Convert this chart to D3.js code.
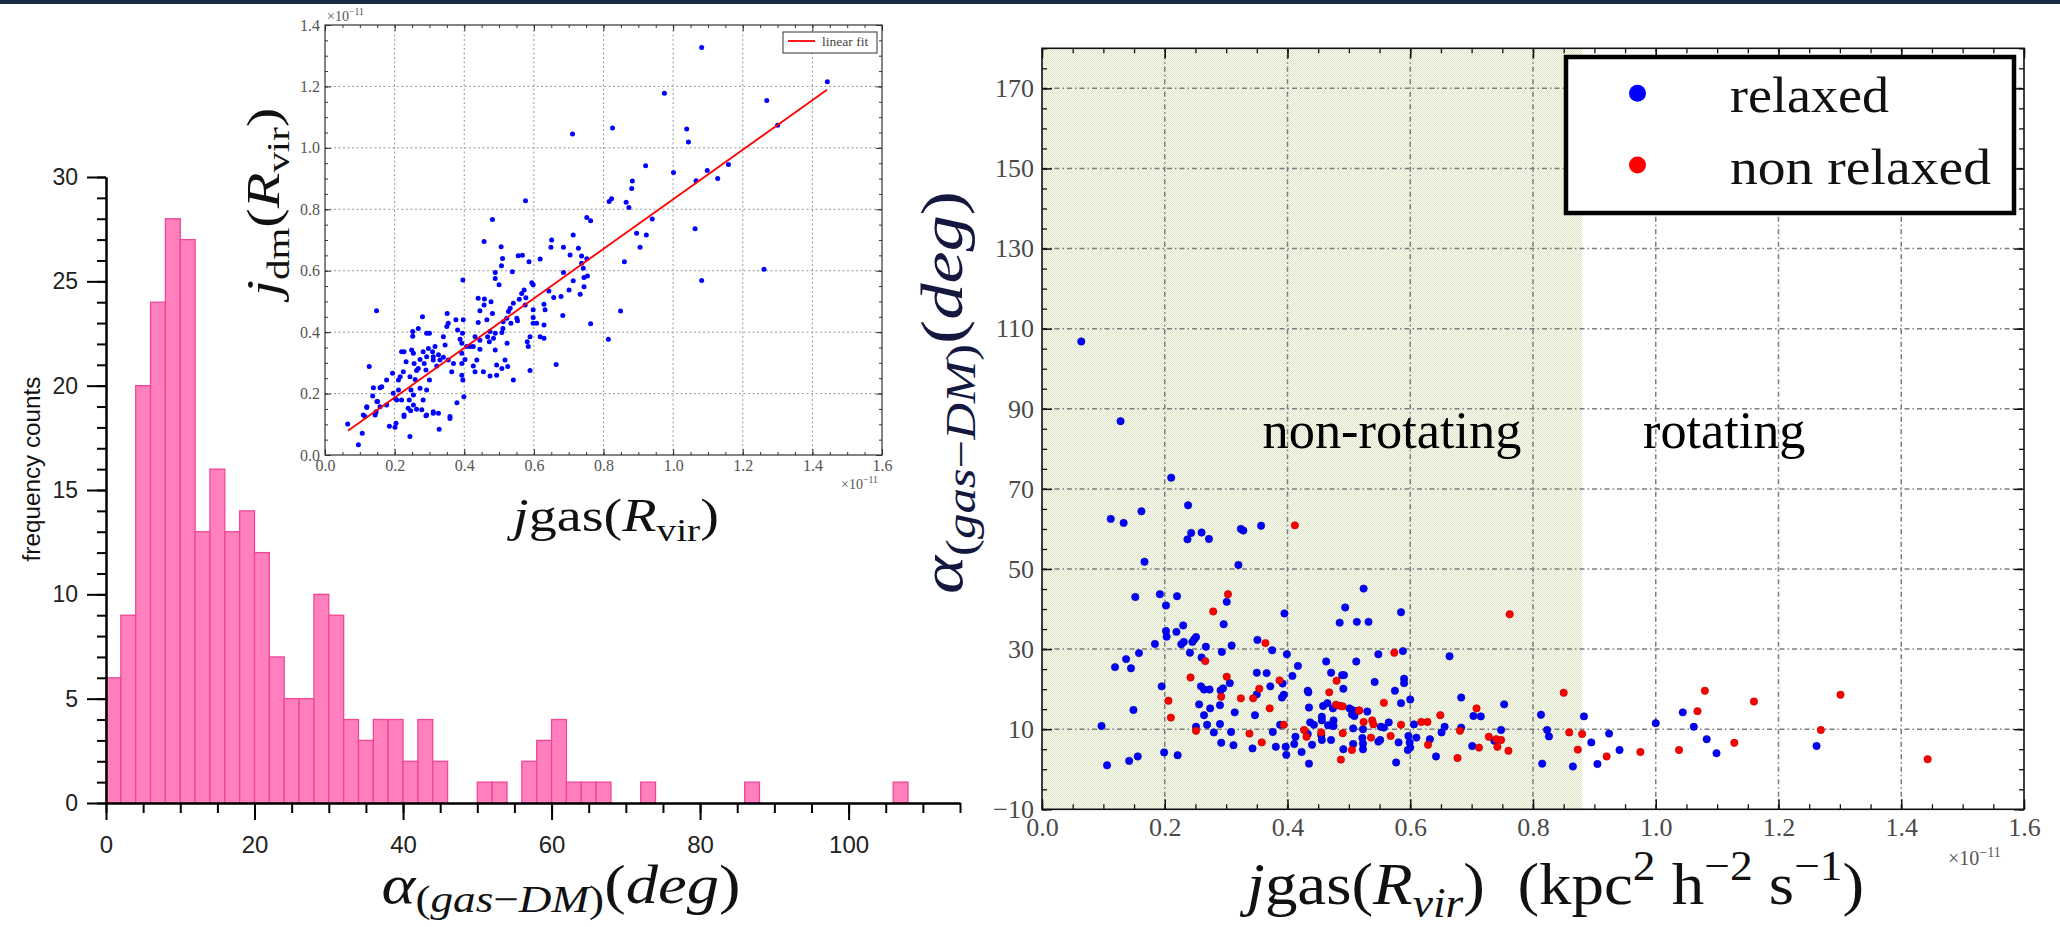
<!DOCTYPE html>
<html>
<head>
<meta charset="utf-8">
<script src="https://cdn.jsdelivr.net/npm/d3@7"></script>
<style>
  html, body { margin: 0; padding: 0; background: #fff; }
  svg { display: block; }
  text { white-space: pre; }
</style>
</head>
<body>
<svg id="chart" width="2060" height="927"></svg>
<script>
/* globals d3 */

// --- DATA ---
// histogram of alpha(gas-DM), 2 degree bins (lower edge -> count)
const histBinStart = [0, 2, 4, 6, 8, 10, 12, 14, 16, 18, 20, 22, 24, 26, 28, 30, 32, 34, 36, 38, 40, 42, 44,
                      50, 52, 56, 58, 60, 62, 64, 66, 72, 86, 106];
const histCounts   = [6, 9, 20, 24, 28, 27, 13, 16, 13, 14, 12, 7, 5, 5, 10, 9, 4, 3, 4, 4, 2, 4, 2,
                      1, 1, 2, 3, 4, 1, 1, 1, 1, 1, 1];
const histBinWidth = 2;
const histXTicks = [0, 20, 40, 60, 80, 100];
const histYTicks = [0, 5, 10, 15, 20, 25, 30];

// inset: j_dm vs j_gas (units of 1e-11)
const insetXTicks = [0.0, 0.2, 0.4, 0.6, 0.8, 1.0, 1.2, 1.4, 1.6];
const insetYTicks = [0.0, 0.2, 0.4, 0.6, 0.8, 1.0, 1.2, 1.4];
const insetPoints = [
  [1.082,1.327],[0.975,1.178],[0.826,1.065],[0.711,1.045],[1.039,1.061],[1.044,1.019],[0.921,0.942],[1.001,0.920],
  [0.883,0.892],[0.881,0.868],[1.066,0.893],[1.098,0.926],[1.128,0.900],[1.159,0.946],[0.816,0.825],[0.823,0.834],
  [0.865,0.823],[0.873,0.806],[0.940,0.768],[0.576,0.828],[0.752,0.773],[0.763,0.763],[0.481,0.767],[1.063,0.737],
  [0.895,0.722],[0.923,0.716],[0.905,0.676],[0.860,0.629],[0.457,0.695],[0.506,0.678],[0.510,0.640],[0.507,0.616],
  [0.489,0.594],[0.489,0.575],[0.500,0.554],[0.538,0.597],[0.555,0.649],[0.567,0.650],[0.586,0.629],[0.618,0.638],
  [0.651,0.700],[0.649,0.676],[0.685,0.676],[0.713,0.716],[0.704,0.651],[0.728,0.673],[0.737,0.648],[0.685,0.594],
  [0.713,0.567],[0.701,0.537],[0.737,0.624],[0.742,0.608],[0.744,0.578],[0.754,0.583],[0.752,0.639],[0.744,0.548],
  [0.733,0.523],[0.643,0.534],[0.657,0.513],[0.678,0.516],[0.683,0.454],[0.763,0.427],[0.849,0.469],[0.814,0.377],
  [0.664,0.295],[0.629,0.491],[0.632,0.473],[0.629,0.423],[0.608,0.429],[0.618,0.385],[0.629,0.380],[0.598,0.473],
  [0.598,0.448],[0.598,0.429],[0.589,0.385],[0.581,0.369],[0.584,0.353],[0.589,0.275],[0.577,0.512],[0.572,0.537],
  [0.594,0.561],[0.598,0.554],[0.575,0.488],[0.565,0.526],[0.558,0.507],[0.541,0.494],[0.532,0.478],[0.527,0.467],
  [0.522,0.445],[0.551,0.445],[0.553,0.437],[0.534,0.429],[0.511,0.412],[0.508,0.399],[0.523,0.364],[0.525,0.288],
  [0.508,0.282],[0.517,0.309],[0.541,0.244],[0.512,0.434],[0.484,0.380],[0.489,0.342],[0.493,0.293],[0.493,0.260],
  [0.474,0.257],[0.489,0.396],[0.472,0.369],[0.467,0.385],[0.474,0.402],[0.465,0.440],[0.445,0.470],[0.457,0.488],
  [0.458,0.508],[0.440,0.510],[0.477,0.499],[0.481,0.461],[0.440,0.431],[0.445,0.374],[0.445,0.344],[0.431,0.385],
  [0.426,0.353],[0.436,0.309],[0.426,0.290],[0.431,0.271],[0.455,0.271],[0.407,0.353],[0.417,0.353],[0.395,0.396],
  [0.397,0.440],[0.396,0.570],[0.376,0.440],[0.381,0.407],[0.388,0.377],[0.393,0.364],[0.393,0.331],[0.402,0.311],
  [0.393,0.298],[0.393,0.260],[0.396,0.244],[0.399,0.190],[0.379,0.170],[0.369,0.298],[0.364,0.271],[0.354,0.309],
  [0.351,0.461],[0.354,0.429],[0.350,0.418],[0.340,0.385],[0.345,0.358],[0.326,0.326],[0.330,0.309],[0.340,0.318],
  [0.321,0.290],[0.316,0.353],[0.309,0.336],[0.297,0.347],[0.311,0.309],[0.311,0.320],[0.300,0.244],[0.292,0.396],
  [0.300,0.396],[0.280,0.450],[0.268,0.412],[0.282,0.336],[0.292,0.320],[0.273,0.311],[0.285,0.298],[0.290,0.277],
  [0.263,0.275],[0.268,0.282],[0.273,0.217],[0.292,0.212],[0.282,0.179],[0.278,0.147],[0.263,0.149],[0.252,0.402],
  [0.252,0.387],[0.249,0.342],[0.254,0.331],[0.256,0.298],[0.259,0.246],[0.244,0.255],[0.247,0.212],[0.254,0.195],
  [0.254,0.163],[0.242,0.179],[0.239,0.152],[0.246,0.144],[0.225,0.271],[0.227,0.336],[0.220,0.336],[0.233,0.304],
  [0.216,0.255],[0.211,0.244],[0.211,0.212],[0.196,0.201],[0.202,0.184],[0.206,0.179],[0.220,0.179],[0.194,0.266],
  [0.177,0.244],[0.177,0.163],[0.163,0.222],[0.158,0.219],[0.139,0.219],[0.137,0.192],[0.127,0.288],[0.148,0.470],
  [0.151,0.174],[0.120,0.157],[0.144,0.136],[0.158,0.157],[0.115,0.125],[0.359,0.125],[0.311,0.141],[0.326,0.136],
  [0.227,0.130],[0.292,0.130],[1.269,1.154],[1.300,1.074],[1.443,1.215],[1.261,0.605],[1.082,0.568],[0.065,0.101],
  [0.096,0.033],[0.107,0.071],[0.110,0.130],[0.120,0.155],[0.144,0.130],[0.147,0.141],[0.149,0.174],[0.185,0.094],
  [0.201,0.090],[0.204,0.103],[0.244,0.060],[0.227,0.125],[0.290,0.128],[0.311,0.136],[0.328,0.084],[0.359,0.119]
];
const fitLine = [[0.066, 0.079], [1.442, 1.189]];

// main scatter: alpha(gas-DM) vs j_gas (units of 1e-11)
const mainXTicks = [0.0, 0.2, 0.4, 0.6, 0.8, 1.0, 1.2, 1.4, 1.6];
const mainYTicks = [-10, 10, 30, 50, 70, 90, 110, 130, 150, 170];
const rotationCut = 0.88;
const relaxed = [
  [0.064,106.8],[0.128,86.9],[0.2105,72.8],[0.112,62.5],[0.133,61.5],[0.162,64.4],[0.167,51.8],[0.238,65.9],
  [0.237,57.4],[0.243,59.0],[0.260,59.1],[0.272,57.5],[0.324,60.0],[0.328,59.6],[0.357,60.8],[0.320,51.0],
  [0.152,43.0],[0.192,43.7],[0.202,40.9],[0.220,43.2],[0.301,41.8],[0.296,36.2],[0.395,38.9],[0.494,40.4],
  [0.524,45.1],[0.485,36.6],[0.513,36.8],[0.532,36.8],[0.585,39.2],[0.202,34.5],[0.203,33.1],[0.219,34.3],
  [0.230,35.9],[0.184,31.3],[0.227,31.2],[0.231,31.8],[0.248,32.4],[0.251,33.0],[0.245,31.8],[0.267,30.6],
  [0.158,29.0],[0.241,29.1],[0.293,29.3],[0.309,30.9],[0.351,32.3],[0.375,29.7],[0.399,28.7],[0.548,28.7],
  [0.588,29.5],[0.664,28.2],[0.119,25.5],[0.137,27.5],[0.145,25.2],[0.260,27.9],[0.417,25.8],[0.463,26.9],
  [0.512,26.9],[0.350,24.1],[0.366,24.0],[0.408,23.3],[0.471,24.1],[0.489,23.5],[0.492,23.5],[0.306,21.5],
  [0.542,21.8],[0.590,22.6],[0.590,21.5],[0.195,20.7],[0.259,20.7],[0.264,19.9],[0.273,19.9],[0.291,19.7],
  [0.295,20.2],[0.372,20.7],[0.392,21.4],[0.433,19.6],[0.434,19.2],[0.491,20.1],[0.575,19.6],[0.350,18.7],
  [0.394,18.6],[0.391,17.9],[0.683,17.9],[0.256,16.2],[0.290,16.0],[0.149,14.8],[0.274,15.2],[0.435,15.4],
  [0.458,15.8],[0.465,16.5],[0.474,15.2],[0.585,16.5],[0.600,17.4],[0.501,15.2],[0.507,14.7],[0.530,14.4],
  [0.703,13.3],[0.715,13.2],[0.753,16.2],[0.314,14.2],[0.347,13.5],[0.264,13.5],[0.456,13.1],[0.456,12.2],
  [0.505,13.7],[0.509,13.3],[0.565,11.7],[0.437,11.7],[0.443,11.1],[0.466,11.0],[0.475,12.2],[0.475,10.8],
  [0.552,10.6],[0.557,10.4],[0.606,11.2],[0.656,10.6],[0.683,10.4],[0.748,9.8],[0.097,10.8],[0.251,10.6],
  [0.269,11.1],[0.280,9.2],[0.290,11.3],[0.388,11.1],[0.376,9.3],[0.308,9.3],[0.413,8.1],[0.433,8.8],
  [0.455,8.5],[0.507,10.2],[0.523,10.0],[0.522,7.8],[0.548,6.9],[0.551,7.3],[0.581,6.7],[0.597,8.3],
  [0.599,6.7],[0.600,5.4],[0.596,4.8],[0.610,7.9],[0.632,7.5],[0.651,9.2],[0.737,7.1],[0.701,5.8],
  [0.292,6.6],[0.312,6.0],[0.343,5.2],[0.381,5.6],[0.397,5.6],[0.398,3.6],[0.423,4.3],[0.411,6.3],
  [0.440,6.1],[0.456,7.3],[0.471,7.3],[0.491,5.0],[0.507,6.3],[0.523,6.4],[0.523,5.0],[0.435,1.4],
  [0.577,1.7],[0.642,3.2],[0.106,1.0],[0.142,2.1],[0.156,3.2],[0.199,4.2],[0.221,3.5],[0.813,13.6],
  [0.883,13.2],[0.823,9.8],[0.826,8.2],[0.895,6.7],[0.924,8.9],[0.905,1.3],[0.941,4.8],[0.815,1.4],
  [0.865,0.7],[1.000,11.5],[1.044,14.2],[1.062,10.6],[1.083,7.5],[1.099,4.0],[1.262,5.8]
];
const nonRelaxed = [
  [0.412,60.9],[0.279,39.4],[0.303,43.7],[0.364,31.5],[0.574,29.1],[0.266,27.0],[0.242,22.9],[0.301,23.1],
  [0.387,22.2],[0.480,22.1],[0.354,20.1],[0.468,19.2],[0.292,18.1],[0.324,17.7],[0.344,17.7],[0.206,17.1],
  [0.557,16.6],[0.371,15.2],[0.479,16.1],[0.486,15.8],[0.490,15.7],[0.516,14.6],[0.517,14.7],[0.708,15.2],
  [0.649,13.5],[0.210,12.9],[0.524,11.8],[0.538,12.2],[0.540,11.2],[0.585,11.1],[0.618,11.8],[0.628,11.8],
  [0.251,9.6],[0.394,11.1],[0.338,8.9],[0.427,9.8],[0.431,8.1],[0.455,9.2],[0.490,9.0],[0.536,7.9],
  [0.568,8.3],[0.629,6.1],[0.681,9.6],[0.728,8.1],[0.740,7.5],[0.748,7.3],[0.742,5.6],[0.760,4.6],
  [0.712,5.4],[0.358,6.7],[0.487,2.4],[0.505,4.8],[0.677,2.8],[0.762,38.7],[0.850,19.1],[0.859,9.2],
  [0.880,8.8],[0.873,4.9],[0.920,3.2],[0.975,4.3],[1.068,14.5],[1.080,19.6],[1.038,4.8],[1.128,6.6],
  [1.160,16.9],[1.269,9.8],[1.301,18.6],[1.443,2.5]
];
const legendItems = [
  { label: 'relaxed', color: '#0000ff' },
  { label: 'non relaxed', color: '#ff0000' }
];

// --- HELPERS ---
const SERIF = 'Liberation Serif, Times New Roman, serif';
const SANS = 'Liberation Sans, Arial, sans-serif';

// rich text: parts = [{t, it, sub, sup}], drawn at (0,0) of a group, optionally squeezed to a width
function richLabel(parent, o) {
  let tf = `translate(${o.x},${o.y})`;
  if (o.rotate) tf += ` rotate(${o.rotate})`;
  const g = parent.append('g').attr('transform', tf);
  const t = g.append('text')
    .attr('text-anchor', o.anchor || 'middle')
    .attr('font-family', o.family || SERIF)
    .attr('font-size', o.size)
    .attr('fill', o.fill || '#000');
  const subShift = o.subShift != null ? o.subShift : 0.22;
  let shift = 0;
  (o.parts || [{ t: o.text }]).forEach(p => {
    const target = p.sub ? o.size * subShift : p.sup ? -o.size * 0.4 : 0;
    t.append('tspan').text(p.t)
      .attr('font-size', (p.sub || p.sup) ? o.size * 0.7 : o.size)
      .attr('font-style', p.it ? 'italic' : 'normal')
      .attr('dy', target - shift);
    shift = target;
  });
  if (o.width) {
    const w = t.node().getBBox().width;
    t.attr('transform', `scale(${o.width / w},1)`);
  }
  return g;
}

const alphaParts = [
  { t: 'α', it: 1 }, { t: '(', sub: 1 }, { t: 'gas', sub: 1, it: 1 }, { t: '−', sub: 1 },
  { t: 'DM', sub: 1, it: 1 }, { t: ')', sub: 1 }, { t: '(' }, { t: 'deg', it: 1 }, { t: ')' }
];
const expParts = [{ t: '×10' }, { t: '−11', sup: 1 }];

function styleAxis(g, o) {
  g.selectAll('.domain').attr('stroke', o.stroke || '#000').attr('stroke-width', o.width || 1.5);
  g.selectAll('.tick line').attr('stroke', o.stroke || '#000').attr('stroke-width', o.width || 1.5);
  g.selectAll('.tick text').attr('font-family', o.family).attr('font-size', o.size).attr('fill', o.fill);
}

const svg = d3.select('#chart');
svg.append('rect').attr('width', 2060).attr('height', 927).attr('fill', '#fff');
svg.append('rect').attr('width', 2060).attr('height', 4).attr('fill', '#1a2b48');

const defs = svg.append('defs');
const pat = defs.append('pattern').attr('id', 'dots')
  .attr('width', 2).attr('height', 2).attr('patternUnits', 'userSpaceOnUse');
pat.append('rect').attr('width', 2).attr('height', 2).attr('fill', '#fafbf3');
pat.append('rect').attr('width', 1).attr('height', 1).attr('fill', '#dde3c6');
pat.append('rect').attr('x', 1).attr('y', 1).attr('width', 1).attr('height', 1).attr('fill', '#dde3c6');

// --- HISTOGRAM ---
const xH = d3.scaleLinear().domain([0, 115]).range([106, 960]);
const yH = d3.scaleLinear().domain([0, 30]).range([803, 177]);

svg.append('g').selectAll('rect').data(histBinStart).join('rect')
  .attr('x', d => xH(d))
  .attr('width', d => xH(d + histBinWidth) - xH(d))
  .attr('y', (d, i) => yH(histCounts[i]))
  .attr('height', (d, i) => yH(0) - yH(histCounts[i]))
  .attr('fill', '#ff80bd')
  .attr('stroke', '#f04596')
  .attr('stroke-width', 1.3);

const hx1 = svg.append('g').attr('transform', `translate(0,${yH(0)})`)
  .call(d3.axisBottom(xH).tickValues(d3.range(0, 116, 5)).tickSize(10).tickSizeOuter(0).tickFormat(''));
styleAxis(hx1, { width: 2 });
const hx2 = svg.append('g').attr('transform', `translate(0,${yH(0)})`)
  .call(d3.axisBottom(xH).tickValues(histXTicks).tickSize(17).tickPadding(16).tickSizeOuter(0));
styleAxis(hx2, { width: 2, family: SANS, size: 24, fill: '#222' });

const hy1 = svg.append('g').attr('transform', `translate(${xH(0)},0)`)
  .call(d3.axisLeft(yH).tickValues(d3.range(0, 31, 1)).tickSize(9).tickSizeOuter(0).tickFormat(''));
styleAxis(hy1, { width: 2 });
const hy2 = svg.append('g').attr('transform', `translate(${xH(0)},0)`)
  .call(d3.axisLeft(yH).tickValues(histYTicks).tickSize(19).tickPadding(9).tickSizeOuter(0));
styleAxis(hy2, { width: 2, family: SANS, size: 23, fill: '#222' });

richLabel(svg, { x: 40, y: 469, rotate: -90, size: 24, family: SANS, text: 'frequency counts', fill: '#111', width: 185 });
richLabel(svg, { x: 561, y: 903, size: 54, parts: alphaParts, width: 359, fill: '#111', subShift: 0.16 });

// --- INSET ---
const xI = d3.scaleLinear().domain([0, 1.6]).range([325, 882]);
const yI = d3.scaleLinear().domain([0, 1.4]).range([455, 25]);
const gI = svg.append('g');
gI.append('rect').attr('x', xI(0)).attr('y', yI(1.4))
  .attr('width', xI(1.6) - xI(0)).attr('height', yI(0) - yI(1.4)).attr('fill', '#fff');

gI.append('g').selectAll('line').data(insetXTicks.slice(1, -1)).join('line')
  .attr('x1', d => xI(d)).attr('x2', d => xI(d)).attr('y1', yI(0)).attr('y2', yI(1.4))
  .attr('stroke', '#9a9a9a').attr('stroke-width', 1).attr('stroke-dasharray', '2,2.5');
gI.append('g').selectAll('line').data(insetYTicks.slice(1, -1)).join('line')
  .attr('y1', d => yI(d)).attr('y2', d => yI(d)).attr('x1', xI(0)).attr('x2', xI(1.6))
  .attr('stroke', '#9a9a9a').attr('stroke-width', 1).attr('stroke-dasharray', '2,2.5');

const iMinorX = d3.range(0, 1.6001, 0.05), iMinorY = d3.range(0, 1.4001, 0.05);
const insetAxes = [
  [d3.axisBottom, xI, `translate(0,${yI(0)})`, iMinorX, insetXTicks, true],
  [d3.axisTop, xI, `translate(0,${yI(1.4)})`, iMinorX, insetXTicks, false],
  [d3.axisLeft, yI, `translate(${xI(0)},0)`, iMinorY, insetYTicks, true],
  [d3.axisRight, yI, `translate(${xI(1.6)},0)`, iMinorY, insetYTicks, false]
];
insetAxes.forEach(([axis, sc, tf, minor, major, lab]) => {
  const a = gI.append('g').attr('transform', tf)
    .call(axis(sc).tickValues(minor).tickSize(-3).tickSizeOuter(0).tickFormat(''));
  a.select('.domain').remove();
  styleAxis(a, { width: 1, stroke: '#333' });
  const b = gI.append('g').attr('transform', tf)
    .call(axis(sc).tickValues(major).tickSize(-6).tickSizeOuter(0).tickPadding(5)
      .tickFormat(lab ? d3.format('.1f') : ''));
  b.select('.domain').remove();
  styleAxis(b, { width: 1, stroke: '#333', family: SERIF, size: 16, fill: '#555' });
});
gI.append('rect').attr('x', xI(0)).attr('y', yI(1.4))
  .attr('width', xI(1.6) - xI(0)).attr('height', yI(0) - yI(1.4))
  .attr('fill', 'none').attr('stroke', '#333').attr('stroke-width', 1.2);

gI.append('g').selectAll('circle').data(insetPoints).join('circle')
  .attr('cx', d => xI(d[0])).attr('cy', d => yI(d[1])).attr('r', 2.5).attr('fill', '#0000ff');
gI.append('line')
  .attr('x1', xI(fitLine[0][0])).attr('y1', yI(fitLine[0][1]))
  .attr('x2', xI(fitLine[1][0])).attr('y2', yI(fitLine[1][1]))
  .attr('stroke', '#ff0000').attr('stroke-width', 1.8);

// inset legend
gI.append('rect').attr('x', 783).attr('y', 32).attr('width', 94).attr('height', 21)
  .attr('fill', '#fff').attr('stroke', '#333').attr('stroke-width', 1);
gI.append('line').attr('x1', 788).attr('x2', 815).attr('y1', 41).attr('y2', 41)
  .attr('stroke', '#ff0000').attr('stroke-width', 1.8);
richLabel(gI, { x: 822, y: 46, anchor: 'start', size: 12, text: 'linear fit', fill: '#444', width: 47 });
richLabel(gI, { x: 327, y: 21, anchor: 'start', size: 14, parts: expParts, fill: '#555' });
richLabel(gI, { x: 841, y: 489, anchor: 'start', size: 14, parts: expParts, fill: '#555' });

richLabel(svg, { x: 616, y: 531, size: 46, width: 212, fill: '#111',
  parts: [{ t: 'j', it: 1 }, { t: 'gas' }, { t: '(' }, { t: 'R', it: 1 }, { t: 'vir', sub: 1 }, { t: ')' }] });
richLabel(svg, { x: 279, y: 202, rotate: -90, size: 46, width: 195, fill: '#111',
  parts: [{ t: 'j', it: 1 }, { t: 'dm', sub: 1 }, { t: '(' }, { t: 'R', it: 1 }, { t: 'vir', sub: 1 }, { t: ')' }] });

// --- MAIN SCATTER ---
const xM = d3.scaleLinear().domain([0, 1.6]).range([1042, 2024]);
const yM = d3.scaleLinear().domain([-10, 180]).range([809.3, 48.3]);
const gM = svg.append('g');

gM.append('rect').attr('x', xM(0)).attr('y', yM(180))
  .attr('width', xM(rotationCut) - xM(0)).attr('height', yM(-10) - yM(180))
  .attr('fill', 'url(#dots)');

gM.append('g').selectAll('line').data(mainXTicks.slice(1, -1)).join('line')
  .attr('x1', d => xM(d)).attr('x2', d => xM(d)).attr('y1', yM(-10)).attr('y2', yM(180))
  .attr('stroke', '#7d7d7d').attr('stroke-width', 1.5).attr('stroke-dasharray', '5,3,1.5,3');
gM.append('g').selectAll('line').data(mainYTicks.slice(1)).join('line')
  .attr('y1', d => yM(d)).attr('y2', d => yM(d)).attr('x1', xM(0)).attr('x2', xM(1.6))
  .attr('stroke', '#7d7d7d').attr('stroke-width', 1.5).attr('stroke-dasharray', '5,3,1.5,3');

const mMinorX = d3.range(0, 1.6001, 0.05), mMinorY = d3.range(-10, 180.01, 5);
const mainAxes = [
  [d3.axisBottom, xM, `translate(0,${yM(-10)})`, mMinorX, mainXTicks, d3.format('.1f')],
  [d3.axisTop, xM, `translate(0,${yM(180)})`, mMinorX, mainXTicks, null],
  [d3.axisLeft, yM, `translate(${xM(0)},0)`, mMinorY, mainYTicks, d3.format('d')],
  [d3.axisRight, yM, `translate(${xM(1.6)},0)`, mMinorY, mainYTicks, null]
];
mainAxes.forEach(([axis, sc, tf, minor, major, fmt]) => {
  const a = gM.append('g').attr('transform', tf)
    .call(axis(sc).tickValues(minor).tickSize(-5).tickSizeOuter(0).tickFormat(''));
  a.select('.domain').remove();
  styleAxis(a, { width: 1.3, stroke: '#111' });
  const b = gM.append('g').attr('transform', tf)
    .call(axis(sc).tickValues(major).tickSize(-10).tickSizeOuter(0).tickPadding(8)
      .tickFormat(fmt || ''));
  b.select('.domain').remove();
  styleAxis(b, { width: 1.5, stroke: '#111', family: SERIF, size: 26, fill: '#4a4a4a' });
});
gM.append('rect').attr('x', xM(0)).attr('y', yM(180))
  .attr('width', xM(1.6) - xM(0)).attr('height', yM(-10) - yM(180))
  .attr('fill', 'none').attr('stroke', '#111').attr('stroke-width', 1.6);

gM.append('g').selectAll('circle').data(relaxed).join('circle')
  .attr('cx', d => xM(d[0])).attr('cy', d => yM(d[1])).attr('r', 3.7)
  .attr('fill', '#0000ff').attr('stroke', '#0000aa').attr('stroke-width', 0.6);
gM.append('g').selectAll('circle').data(nonRelaxed).join('circle')
  .attr('cx', d => xM(d[0])).attr('cy', d => yM(d[1])).attr('r', 3.7)
  .attr('fill', '#ff0000').attr('stroke', '#b00000').attr('stroke-width', 0.6);

richLabel(gM, { x: 1262.5, y: 448, anchor: 'start', size: 52, text: 'non-rotating', width: 259 });
richLabel(gM, { x: 1643, y: 448, anchor: 'start', size: 52, text: 'rotating', width: 162.5 });

// legend
const lg = gM.append('g');
lg.append('rect').attr('x', 1566).attr('y', 57).attr('width', 448).attr('height', 156)
  .attr('fill', '#fff').attr('stroke', '#000').attr('stroke-width', 4.5);
const legendRows = [93.3, 165];
const legendWidths = [159, 261];
legendItems.forEach((d, i) => {
  lg.append('circle').attr('cx', 1637.5).attr('cy', legendRows[i]).attr('r', 8.5).attr('fill', d.color);
  richLabel(lg, { x: 1730, y: legendRows[i] + 18.5, anchor: 'start', size: 51, text: d.label,
    width: legendWidths[i], fill: '#111' });
});

richLabel(gM, { x: 1948, y: 865, anchor: 'start', size: 20, parts: expParts, fill: '#555' });

richLabel(svg, { x: 1555.5, y: 904, size: 60, width: 625, fill: '#111',
  parts: [{ t: 'j', it: 1 }, { t: 'gas' }, { t: '(' }, { t: 'R', it: 1 }, { t: 'vir', it: 1, sub: 1 }, { t: ')' },
    { t: '  (kpc' }, { t: '2', sup: 1 }, { t: ' h' }, { t: '−2', sup: 1 }, { t: ' s' }, { t: '−1', sup: 1 }, { t: ')' }] });
richLabel(svg, { x: 962, y: 392.5, rotate: -90, size: 60, parts: alphaParts, width: 403, fill: '#14183f' });
</script>
</body>
</html>
